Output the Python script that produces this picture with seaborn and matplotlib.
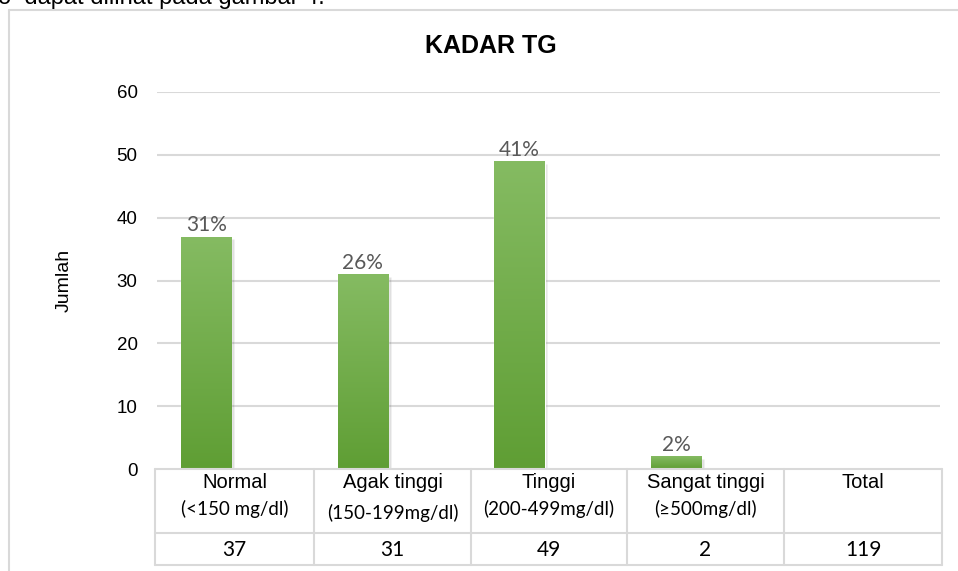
import numpy as np
import matplotlib
matplotlib.use("Agg")
import matplotlib.pyplot as plt
import seaborn as sns
from matplotlib.lines import Line2D

categories = ["Normal", "Agak tinggi", "Tinggi", "Sangat tinggi", "Total"]
ranges = ["(<150 mg/dl)", "(150-199mg/dl)", "(200-499mg/dl)", "(\u2265500mg/dl)", ""]
counts = [37, 31, 49, 2]
total = 119
percents = ["31%", "26%", "41%", "2%"]
table_values = counts + [total]
yticks = [0, 10, 20, 30, 40, 50, 60]

W, H = 958, 571
sns.set_theme(style="white")
plt.rcParams["font.family"] = ["Liberation Sans", "DejaVu Sans"]

fig = plt.figure(figsize=(W / 100, H / 100), dpi=100)


def fx(x):
    return x / W


def fy(y):
    return 1 - y / H


ax_l, ax_r, ax_t, ax_b = 157, 940, 92, 469
ax = fig.add_axes([fx(ax_l), fy(ax_b), fx(ax_r - ax_l), fy(ax_t) - fy(ax_b)])

bar_df = {"cat": categories[:4], "n": counts}
sns.barplot(x=bar_df["cat"], y=bar_df["n"], order=categories, color="#70ad47",
            width=0.32, ax=ax, saturation=1)

# bars in the original sit left of the category centre
grad = np.linspace(0, 1, 256).reshape(-1, 1)
cmap = matplotlib.colors.LinearSegmentedColormap.from_list("g", ["#5f9e34", "#85bb62"])
for p, lab in zip(ax.patches, percents):
    p.set_x(p.get_x() - 0.185)
    x0, w, h = p.get_x(), p.get_width(), p.get_height()
    # soft shadow
    ax.bar(x0 + w / 2 + 0.012, h, width=w + 0.01, bottom=-0.4, color="#000000",
           alpha=0.12, zorder=1, align="center")
    im = ax.imshow(grad, extent=[x0, x0 + w, 0, h], origin="lower", cmap=cmap,
                   aspect="auto", zorder=3)
    im.set_clip_path(p)
    p.set_zorder(2)
    ax.text(x0 + w / 2, h + 0.2, lab, ha="center", va="bottom", fontsize=15,
            color="#595959", family=["Lato", "DejaVu Sans"])
ax.set_xlim(-0.5, 4.5)
ax.set_ylim(0, 60)

ax.set_yticks(yticks)
ax.set_yticklabels([str(t) for t in yticks], fontsize=13.5, color="#000000")
ax.tick_params(axis="y", length=0, pad=14)
ax.set_xticks([])
ax.set_xlabel("")
ax.set_ylabel("")
for s in ax.spines.values():
    s.set_visible(False)
for t in yticks[1:]:
    ax.axhline(t, color="#d9d9d9", lw=1.5, zorder=0)

fig.text(fx(64), fy(280), "Jumlah", rotation=90, ha="center", va="center",
         fontsize=14, color="#000000")
fig.text(fx(491), fy(46), "KADAR TG", ha="center", va="center", fontsize=18,
         fontweight="bold", color="#000000")

# data table below the axis
grid_c = "#d9d9d9"
col_edges = [155, 314, 471, 627, 784, 942]
row_edges = [469, 533, 565]


def line(x1, y1, x2, y2, c=grid_c, lw=1.5):
    fig.add_artist(Line2D([fx(x1), fx(x2)], [fy(y1), fy(y2)], color=c, lw=lw,
                          transform=fig.transFigure))


for y in row_edges:
    line(col_edges[0], y, col_edges[-1], y)
for x in col_edges:
    line(x, row_edges[0], x, row_edges[-1])

for i, (c, r, v) in enumerate(zip(categories, ranges, table_values)):
    cx = (col_edges[i] + col_edges[i + 1]) / 2
    fig.text(fx(cx), fy(482), c, ha="center", va="center", fontsize=14.5, color="#000000")
    if r:
        yy = 513 if i == 1 else 509
        fig.text(fx(cx), fy(yy), r, ha="center", va="center", fontsize=13.5,
                 color="#000000", family=["Lato", "DejaVu Sans"])
    fig.text(fx(cx), fy(550), str(v), ha="center", va="center", fontsize=15,
             color="#000000", family=["Lato", "DejaVu Sans"])

# outer chart frame and cut-off text line above
line(9, 10, W, 10, c="#d9d9d9", lw=1.5)
line(9, 10, 9, H, c="#d9d9d9", lw=1.5)
fig.text(fx(-2), fy(4), "o  dapat dilihat pada gambar 4.", ha="left", va="baseline",
         fontsize=17, color="#000000")

fig.savefig("out.png", dpi=100)
